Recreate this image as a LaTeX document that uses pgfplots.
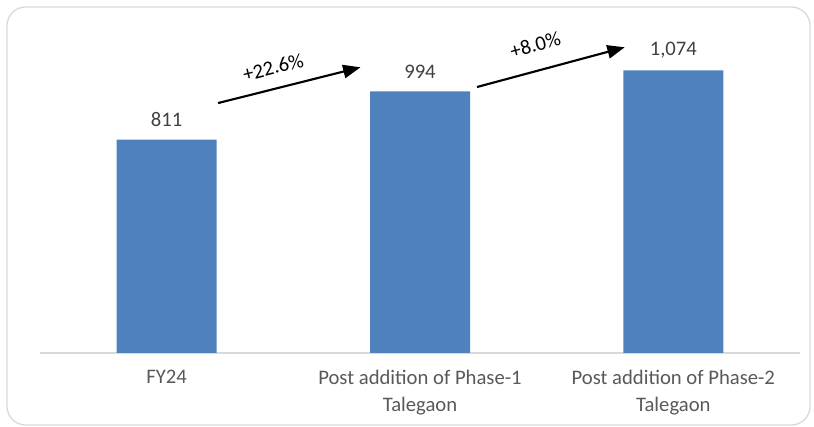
\documentclass[border=0pt]{standalone}
\usepackage{fontspec}
\setmainfont{Carlito}
\usepackage{pgfplots}
\pgfplotsset{compat=1.18}
\usetikzlibrary{arrows.meta}
\definecolor{barblue}{HTML}{4F81BD}
\definecolor{txtgray}{HTML}{595959}
\definecolor{lblgray}{HTML}{404040}
\definecolor{framegray}{HTML}{D9D9D9}
\begin{document}
\begin{tikzpicture}[x=0.75pt,y=0.75pt]
\useasboundingbox (0,0) rectangle (814,427);
\draw[framegray, line width=1pt, rounded corners=14] (7,2) rectangle (810,420);
\begin{axis}[
  at={(40pt*0.75,74pt*0.75)}, anchor=south west,
  scale only axis,
  width=570pt, height=256.5pt,
  xmin=-0.5, xmax=2.5, ymin=0, ymax=1300,
  axis x line*=bottom, hide y axis,
  x axis line style={framegray, line width=1pt, -},
  xtick={0,1,2}, major tick length=0pt,
  xticklabels={FY24, Post addition of Phase-1\\Talegaon, Post addition of Phase-2\\Talegaon},
  xticklabel style={align=center, font=\fontsize{15.5}{20}\selectfont, text=txtgray, yshift=-9.5pt},
  ybar, bar width=75pt,
  nodes near coords,
  every node near coord/.append style={font=\fontsize{15.5}{18}\selectfont, text=lblgray, yshift=6pt},
  /pgf/number format/.cd, 1000 sep={,}, assume math mode=true,
  clip=false,
]
\addplot[fill=barblue, draw=none] coordinates {(0,811) (1,994) (2,1074)};
\draw[black, line width=1.6pt, -{Triangle[length=13pt,width=10pt]}]
  (axis cs:0.203,950) -- (axis cs:0.765,1086);
\draw[black, line width=1.6pt, -{Triangle[length=13pt,width=10pt]}]
  (axis cs:1.225,1011) -- (axis cs:1.808,1162);
\node[rotate=14, font=\fontsize{15.5}{18}\selectfont] at (axis cs:0.42,1086) {+22.6\%};
\node[rotate=15, font=\fontsize{15.5}{18}\selectfont] at (axis cs:1.455,1172) {+8.0\%};
\end{axis}
\end{tikzpicture}
\end{document}
